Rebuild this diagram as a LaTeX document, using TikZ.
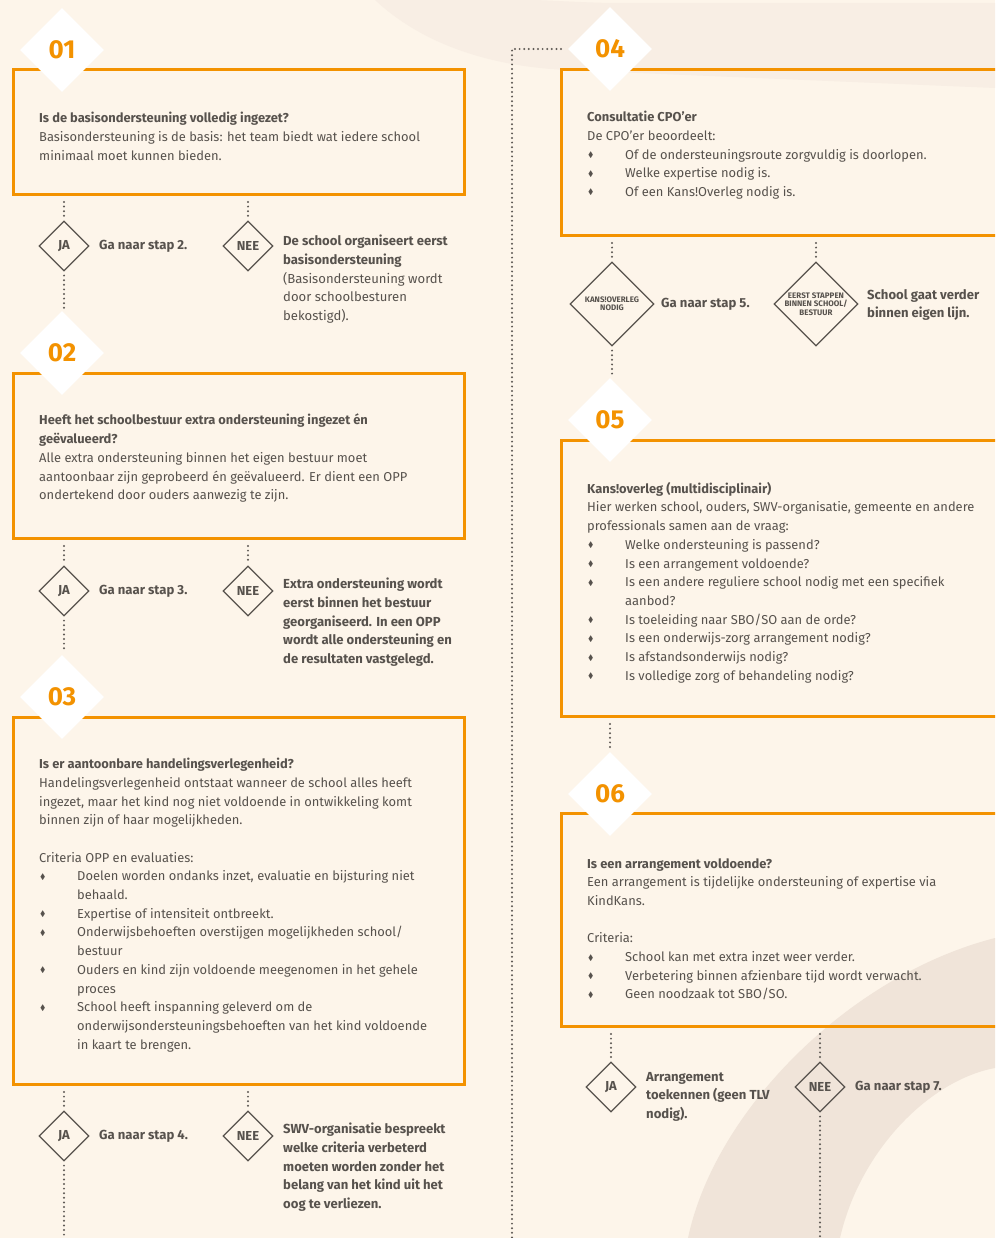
\documentclass[tikz,border=0pt]{standalone}
\usepackage{fontspec}
\setmainfont{Fira Sans}
\usepackage{amssymb}
\usepackage{graphicx}
\usetikzlibrary{shapes.geometric}

\definecolor{achtergrond}{HTML}{FDF5EA}
\definecolor{bandlicht}{HTML}{F8EEE4}
\definecolor{boogbeige}{HTML}{F0E4D9}
\definecolor{oranje}{HTML}{F39200}
\definecolor{tekstgrijs}{HTML}{57524D}
\definecolor{stipgrijs}{HTML}{5E5954}

% opsommingsteken en inspringing
\newcommand{\opsom}{\makebox[38pt][l]{\hspace{1pt}\raisebox{1.5pt}{\scalebox{0.62}{$\blacklozenge$}}}}
\newcommand{\inspr}{\hspace*{38pt}}

\tikzset{
  stapkader/.style={draw=oranje, line width=3pt, anchor=north west, inner sep=0pt},
  nummer/.style={diamond, aspect=1, fill=white, minimum size=84pt, inner sep=0pt,
    text=oranje, font=\fontsize{26}{26}\selectfont\bfseries},
  keuze/.style={diamond, aspect=1, draw=tekstgrijs, line width=1.2pt, minimum size=50pt,
    inner sep=0pt, text=tekstgrijs, font=\fontsize{13}{13}\selectfont\bfseries},
  keuzegroot/.style={keuze, minimum size=84pt, inner sep=-4pt, align=center,
    font=\fontsize{8}{8.4}\selectfont\bfseries},
  tekst/.style={anchor=north west, inner sep=0pt, align=left, text=tekstgrijs,
    font=\fontsize{12.9}{18.7}\selectfont, execute at begin node=\strut},
  antwoord/.style={tekst, font=\fontsize{13.1}{18.7}\selectfont\bfseries},
  kort/.style={inner sep=0pt, text=tekstgrijs, font=\fontsize{13.1}{18.7}\selectfont\bfseries},
  stippel/.style={draw=stipgrijs, line width=2.2pt, line cap=round, dash pattern=on 0pt off 4.6pt},
}

\begin{document}
\begin{tikzpicture}[x=1pt, y=-1pt]
	% Achtergrond
	\useasboundingbox (0,0) rectangle (995,1238);
	\clip (0,0) rectangle (995,1238);
	\fill[achtergrond] (0,0) rectangle (995,1238);
	\fill[bandlicht] (375,0) .. controls (420,42) and (485,66) .. (566,70) -- (995,88)
		-- (995,3) -- (610,3) .. controls (570,2) and (545,0) .. (530,0) -- cycle;
	\fill[boogbeige] (688,1238) .. controls (715,1110) and (850,975) .. (995,938)
		-- (995,1068) .. controls (930,1080) and (860,1150) .. (840,1238) -- cycle;

	% Kaders van de stappen
	\node[stapkader, minimum width=451pt, minimum height=125pt] (kader1) at (12,68) {};
	\node[stapkader, minimum width=451pt, minimum height=165pt] (kader2) at (12,372) {};
	\node[stapkader, minimum width=451pt, minimum height=367pt] (kader3) at (12,716) {};
	\node[stapkader, minimum width=450pt, minimum height=166pt] (kader4) at (560,68) {};
	\node[stapkader, minimum width=450pt, minimum height=276pt] (kader5) at (560,439) {};
	\node[stapkader, minimum width=450pt, minimum height=213pt] (kader6) at (560,812) {};

	% Nummers
	\node[nummer] (n01) at (62,50) {01};
	\node[nummer] (n02) at (62,353) {02};
	\node[nummer] (n03) at (62,697) {03};
	\node[nummer] (n04) at (610,49) {04};
	\node[nummer] (n05) at (610,420) {05};
	\node[nummer] (n06) at (610,794) {06};

	% Stap 1
	\node[tekst] (t1) at (39,112) {\textbf{Is de basisondersteuning volledig ingezet?}\\
		Basisondersteuning is de basis: het team biedt wat iedere school\\
		minimaal moet kunnen bieden.};
	\node[keuze] (ja1) at (64,246) {JA};
	\node[keuze] (nee1) at (248,246) {NEE};
	\node (a1) at (99,246) [kort, right] {Ga naar stap 2.};
	\node[antwoord] (b1) at (283,235) {De school organiseert eerst\\
		basisondersteuning\\
		\mdseries(Basisondersteuning wordt\\
		\mdseries door schoolbesturen\\
		\mdseries bekostigd).};

	% Stap 2
	\node[tekst] (t2) at (39,414) {\textbf{Heeft het schoolbestuur extra ondersteuning ingezet én}\\
		\textbf{geëvalueerd?}\\
		Alle extra ondersteuning binnen het eigen bestuur moet\\
		aantoonbaar zijn geprobeerd én geëvalueerd. Er dient een OPP\\
		ondertekend door ouders aanwezig te zijn.};
	\node[keuze] (ja2) at (64,591) {JA};
	\node[keuze] (nee2) at (248,591) {NEE};
	\node (a2) at (99,591) [kort, right] {Ga naar stap 3.};
	\node[antwoord] (b2) at (283,578) {Extra ondersteuning wordt\\
		eerst binnen het bestuur\\
		georganiseerd. In een OPP\\
		wordt alle ondersteuning en\\
		de resultaten vastgelegd.};

	% Stap 3
	\node[tekst] (t3) at (39,758) {\textbf{Is er aantoonbare handelingsverlegenheid?}\\
		Handelingsverlegenheid ontstaat wanneer de school alles heeft\\
		ingezet, maar het kind nog niet voldoende in ontwikkeling komt\\
		binnen zijn of haar mogelijkheden.\\
		\mbox{}\\
		Criteria OPP en evaluaties:\\
		\opsom Doelen worden ondanks inzet, evaluatie en bijsturing niet\\
		\inspr behaald.\\
		\opsom Expertise of intensiteit ontbreekt.\\
		\opsom Onderwijsbehoeften overstijgen mogelijkheden school/\\
		\inspr bestuur\\
		\opsom Ouders en kind zijn voldoende meegenomen in het gehele\\
		\inspr proces\\
		\opsom School heeft inspanning geleverd om de\\
		\inspr onderwijsondersteuningsbehoeften van het kind voldoende\\
		\inspr in kaart te brengen.};
	\node[keuze] (ja3) at (64,1136) {JA};
	\node[keuze] (nee3) at (248,1136) {NEE};
	\node (a3) at (99,1136) [kort, right] {Ga naar stap 4.};
	\node[antwoord] (b3) at (283,1123) {SWV-organisatie bespreekt\\
		welke criteria verbeterd\\
		moeten worden zonder het\\
		belang van het kind uit het\\
		oog te verliezen.};

	% Stap 4
	\node[tekst] (t4) at (587,111) {\textbf{Consultatie CPO’er}\\
		De CPO’er beoordeelt:\\
		\opsom Of de ondersteuningsroute zorgvuldig is doorlopen.\\
		\opsom Welke expertise nodig is.\\
		\opsom Of een Kans!Overleg nodig is.};
	\node[keuzegroot] (kans) at (612,304) {KANS!OVERLEG\\NODIG};
	\node[keuzegroot] (eerst) at (816,304) {EERST STAPPEN\\BINNEN SCHOOL/\\BESTUUR};
	\node (a4) at (661,304) [kort, right] {Ga naar stap 5.};
	\node[antwoord] (b4) at (867,289) {School gaat verder\\
		binnen eigen lijn.};

	% Stap 5
	\node[tekst] (t5) at (587,482) {\textbf{Kans!overleg (multidisciplinair)}\\
		Hier werken school, ouders, SWV-organisatie, gemeente en andere\\
		professionals samen aan de vraag:\\
		\opsom Welke ondersteuning is passend?\\
		\opsom Is een arrangement voldoende?\\
		\opsom Is een andere reguliere school nodig met een specifiek\\
		\inspr aanbod?\\
		\opsom Is toeleiding naar SBO/SO aan de orde?\\
		\opsom Is een onderwijs-zorg arrangement nodig?\\
		\opsom Is afstandsonderwijs nodig?\\
		\opsom Is volledige zorg of behandeling nodig?};

	% Stap 6
	\node[tekst] (t6) at (587,858) {\textbf{Is een arrangement voldoende?}\\
		Een arrangement is tijdelijke ondersteuning of expertise via\\
		KindKans.\\
		\mbox{}\\
		Criteria:\\
		\opsom School kan met extra inzet weer verder.\\
		\opsom Verbetering binnen afzienbare tijd wordt verwacht.\\
		\opsom Geen noodzaak tot SBO/SO.};
	\node[keuze] (ja6) at (611,1087) {JA};
	\node[keuze] (nee6) at (820,1087) {NEE};
	\node[antwoord] (a6) at (646,1072) {Arrangement\\
		toekennen (geen TLV\\
		nodig).};
	\node (b6) at (855,1087) [kort, right] {Ga naar stap 7.};

	% Stippellijnen
	\coordinate (uit3) at (64,1242);
	\coordinate (in4) at (512,1242);
	\coordinate (hoek4) at (512,49);
	\coordinate (uit6) at (820,1242);
	\foreach \k/\d in {kader1/ja1, kader1/nee1, kader2/ja2, kader2/nee2, kader3/ja3,
		kader3/nee3, kader4/kans, kader4/eerst, kader6/ja6, kader6/nee6}
		\draw[stippel, shorten <=6pt, shorten >=4pt] (\d.north |- \k.south) -- (\d.north);
	\draw[stippel, shorten <=4pt, shorten >=3pt] (ja1.south) -- (ja1.south |- n02.north);
	\draw[stippel, shorten <=4pt, shorten >=3pt] (ja2.south) -- (ja2.south |- n03.north);
	\draw[stippel, shorten <=4pt] (ja3.south) -- (uit3);
	\draw[stippel, shorten >=5pt] (in4) -- (hoek4) -- (n04.west);
	\draw[stippel, shorten <=4pt, shorten >=3pt] (kans.south) -- (kans.south |- n05.north);
	\draw[stippel, shorten <=6pt, shorten >=4pt] (n06.north |- kader5.south) -- (n06.north);
	\draw[stippel, shorten <=4pt] (nee6.south) -- (uit6);

\end{tikzpicture}
\end{document}
